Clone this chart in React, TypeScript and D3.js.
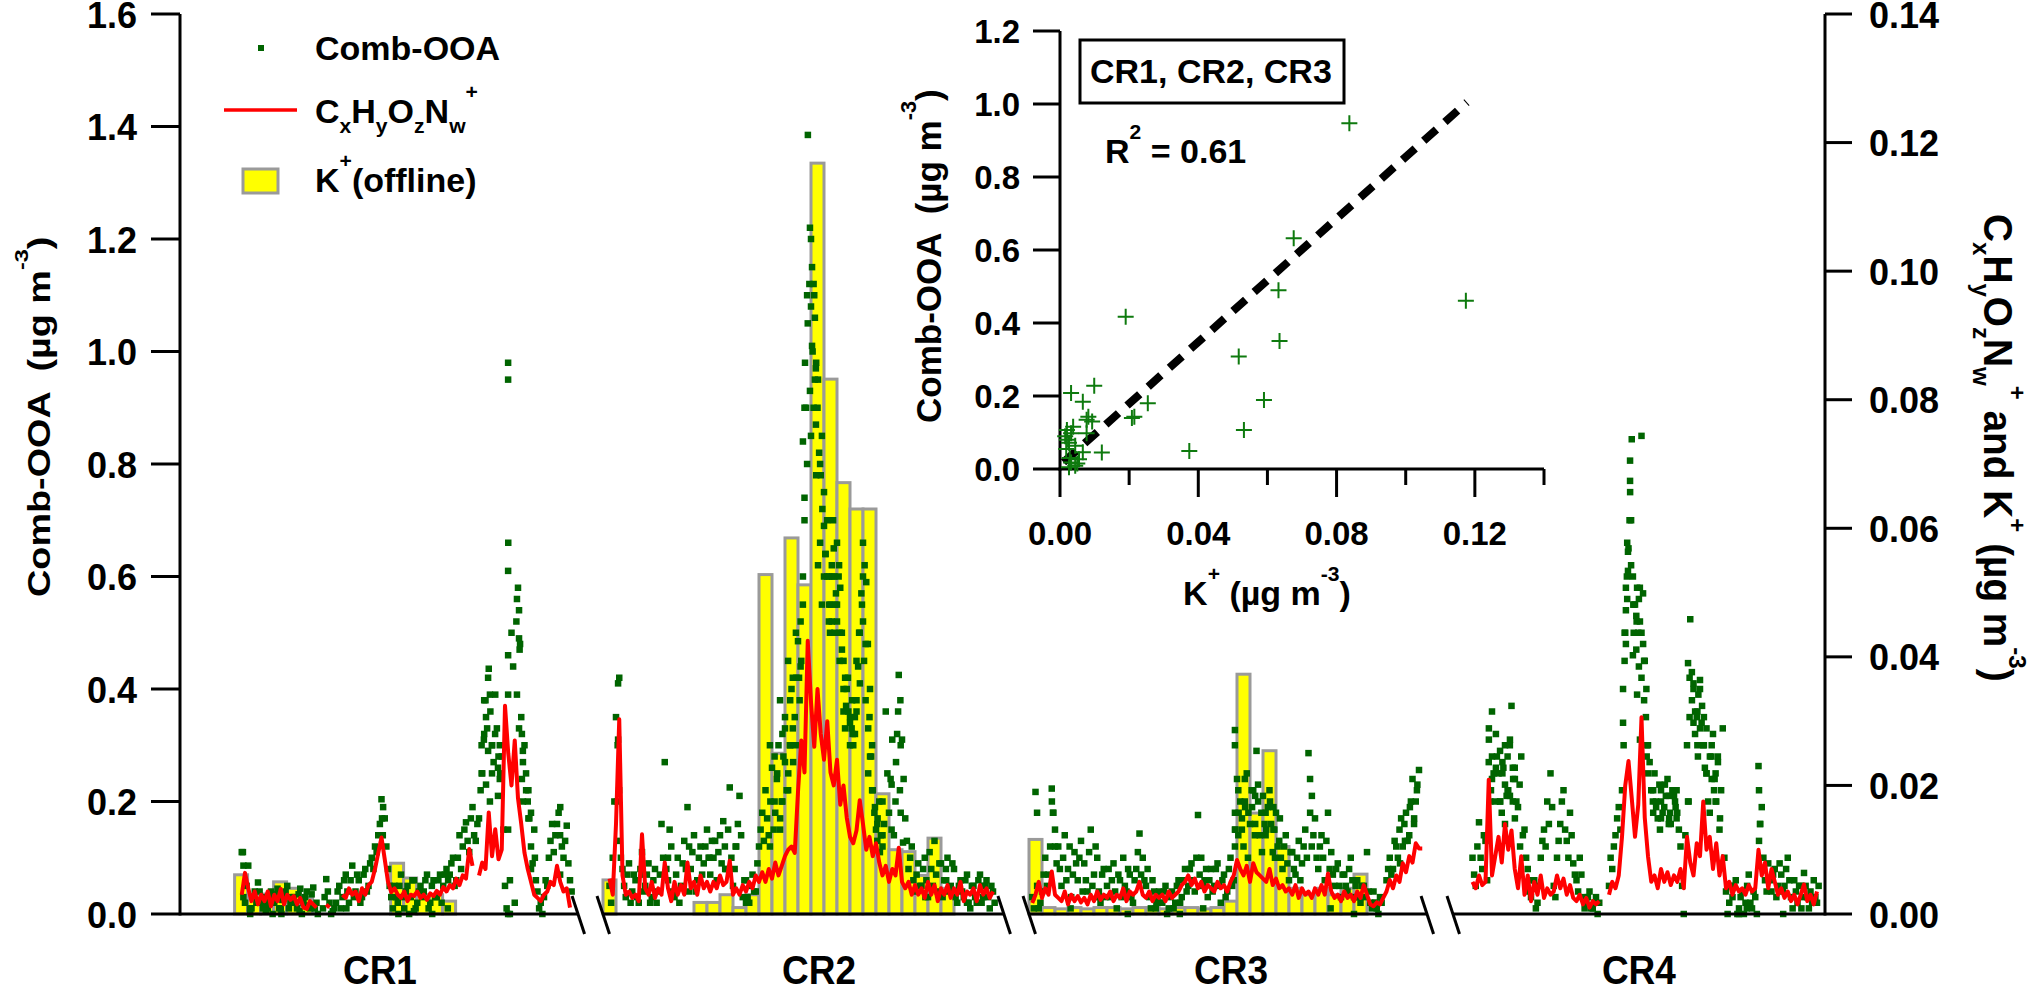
import React, { useEffect, useRef } from 'react';
import * as d3 from 'd3';

// ---------- data ----------
// time is in days from the left end of each campaign's axis piece
const AMS_STEP = 0.125; // spacing of the on-line points (3 h); second set sits half a step later
const FILTER_DAYS = 0.5; // duration of one offline K+ filter

const campaigns = ['CR1', 'CR2', 'CR3', 'CR4'];
const campaignDays = [15.31, 15.42, 15.31, 14.31];
const campaignLabelDay = [7.69, 8.31, 7.77, 7.15];

// Comb-OOA (left axis, ug m-3)
const cr1Start = 2.375;
const cr1CombOOA = [
  0.11, 0.02, 0.086, 0.01, 0.04, 0.056, 0.02, 0.03,
  0.01, 0.04, 0.02, 0.045, 0.01, 0.03, 0.05, 0.02,
  0.03, 0.01, 0.045, 0.02, 0.04, 0.01, 0.047, 0.02,
  null, 0.01, 0.062, 0.02, 0.005, 0.02, 0.05, 0.03,
  0.07, 0.02, 0.086, 0.04, 0.06, 0.03, 0.08, 0.05,
  0.1, 0.12, 0.14, 0.204, 0.17, 0.08, 0.03, 0.05,
  0.02, 0.07, 0.01, 0.05, 0.03, 0.06, 0.02, 0.05,
  0.04, 0.07, 0.02, 0.06, 0.03, 0.07, 0.05, 0.08,
  0.07, 0.1, 0.06, 0.14, 0.12, 0.163, 0.11, 0.19,
  0.13, 0.17, 0.25, 0.38, 0.436, 0.3, 0.39, 0.28,
  0.28, 0.05, 0.66, 0.5, 0.02, 0.58, 0.35, 0.3,
  0.2, 0.12, 0.15, 0.04, 0.02, 0.03, 0.05, 0.13,
  0.11, 0.16, 0.19, 0.1, 0.157, 0.06,
];
const cr1CombOOAb = [
  0.03, 0.05, 0.01, 0.03, 0.02, 0.04, 0.01, 0.02,
  0.03, 0.0, 0.035, 0.01, 0.025, 0.04, 0.01, 0.03,
  0.02, 0.035, 0.0, 0.03, 0.015, 0.035, 0.01, null,
  null, 0.03, 0.04, 0.0, 0.01, 0.04, 0.01, 0.06,
  0.04, 0.06, 0.03, 0.07, 0.02, 0.07, 0.04, 0.09,
  0.08, 0.11, 0.16, 0.19, 0.12, 0.05, 0.01, 0.03,
  0.05, 0.03, 0.04, 0.0, 0.06, 0.01, 0.04, 0.03,
  0.06, 0.01, 0.05, 0.03, 0.06, 0.02, 0.07, 0.06,
  0.09, 0.05, 0.1, 0.08, 0.15, 0.13, 0.17, 0.14,
  0.16, 0.22, 0.31, 0.33, 0.36, 0.27, 0.33, 0.25,
  0.15, 0.01, 0.0, 0.44, 0.52, 0.47, 0.29, 0.22,
  0.17, 0.09, 0.06, 0.01, 0.0, 0.06, 0.1, 0.16,
  0.14, 0.18, 0.12, 0.13, 0.09, 0.04,
];
const cr1CombOOAExtra: [number, number][] = [
  [2.42, 0.11], [2.44, 0.086], [2.7, 0.0], [3.3, 0.005], [3.9, 0.0], [4.6, 0.005], [5.3, 0.0],
  [6.4, 0.01], [7.77, 0.17], [7.8, 0.14], [8.4, 0.0], [9.0, 0.005], [9.7, 0.0], [10.3, 0.01],
  [11.6, 0.3], [11.6, 0.25], [11.7, 0.32], [11.7, 0.38],
  [11.77, 0.23], [11.77, 0.35], [11.85, 0.42], [11.85, 0.29], [11.92, 0.39], [11.92, 0.2],
  [12.0, 0.3], [12.0, 0.25], [12.12, 0.32], [12.23, 0.21], [12.23, 0.26], [12.3, 0.24], [12.3, 0.3],
  [12.62, 0.98], [12.62, 0.95], [12.62, 0.61],
  [12.62, 0.46], [12.62, 0.39], [12.62, 0.15], [12.62, 0.0], [12.69, 0.06], [12.96, 0.56],
  [12.96, 0.39], [13.04, 0.54], [13.04, 0.49], [13.04, 0.33], [13.08, 0.48], [13.15, 0.32],
  [13.15, 0.24], [13.19, 0.27], [13.19, 0.2], [13.31, 0.25], [13.4, 0.22], [13.4, 0.17],
  [13.5, 0.18], [13.5, 0.08], [13.65, 0.1], [14.62, 0.14], [14.62, 0.07],
];
// CxHyOzNw+ (right axis, ug m-3)
const cr1CHON = [
  0.003, 0.0064, 0.004, 0.002, 0.0035, 0.0015, 0.003, 0.002,
  0.0035, 0.0012, 0.003, 0.002, 0.0039, 0.0015, 0.003, 0.0022,
  0.0028, 0.0015, 0.0025, 0.001, 0.0008, 0.002, 0.0015, 0.001,
  null, null, 0.0015, 0.001, null, null, null, 0.003,
  0.0025, 0.004, 0.003, 0.0035, 0.002, 0.004, 0.003, 0.0045,
  0.005, 0.007, 0.0095, 0.0119, 0.0085, 0.005, 0.0034, 0.004,
  0.003, 0.0025, 0.0035, 0.002, 0.003, 0.0028, 0.0035, 0.0025,
  0.003, 0.0022, 0.0032, 0.0028, 0.0036, 0.003, 0.0042, 0.0035,
  0.0045, 0.004, 0.0055, 0.0045, 0.006, 0.0055, 0.0101, 0.0075,
  null, 0.006, 0.008, 0.007, 0.0158, 0.009, 0.0132, 0.0085,
  0.01, 0.0324, 0.025, 0.02, 0.027, 0.018, 0.014, 0.0095,
  0.007, 0.005, 0.003, 0.0025, 0.002, 0.003, 0.0035, 0.005,
  0.0045, 0.0075, 0.005, 0.0035, 0.004, 0.001,
];
// K+ offline (right axis, ug m-3)
const cr1FilterStart = 2.1;
const cr1KPlus = [0.0061, 0.003, 0.0031, 0.005, 0.004, 0.0025, null, null, null, null, null, null, 0.0079, 0.0056, 0.003, 0.003, 0.002];

const cr2Start = 0.25;
const cr2CombOOA = [
  0.05, 0.1, 0.35, 0.42, 0.08, 0.03, 0.09, 0.04,
  0.06, 0.02, 0.11, 0.05, 0.09, 0.03, 0.08, 0.04,
  0.16, 0.27, 0.06, 0.12, 0.03, 0.1, 0.05, 0.13,
  0.19, 0.08, 0.14, 0.06, 0.12, 0.09, 0.15, 0.07,
  0.1, 0.06, 0.14, 0.165, 0.08, 0.225, 0.05, 0.12,
  0.21, 0.03, 0.06, 0.02, 0.07, 0.04, 0.12, 0.18,
  0.22, 0.14, 0.26, 0.18, 0.3, 0.2, 0.33, 0.25,
  0.4, 0.35, 0.485, 0.45, 0.74, 1.05, 1.2, 1.1,
  0.9, 0.78, 0.69, 0.6, 0.55, 0.65, 0.52, 0.58,
  0.45, 0.4, 0.35, 0.3, 0.38, 0.5, 0.66, 0.59,
  0.35, 0.22, 0.15, 0.2, 0.12, 0.36, 0.18, 0.31,
  0.2, 0.425, 0.31, 0.17, 0.08, 0.12, 0.04, 0.09,
  0.05, 0.1, 0.03, 0.08, 0.13, 0.04, 0.09, 0.06,
  0.1, 0.05, 0.08, 0.02, 0.06, 0.03, 0.07, 0.01,
  0.05, 0.02, 0.07, 0.03, 0.06, 0.01, 0.04,
];
const cr2CombOOAb = [
  0.02, 0.2, 0.3, 0.1, 0.05, 0.07, 0.02, 0.07,
  0.03, 0.08, 0.04, 0.07, 0.02, 0.06, 0.02, 0.07,
  0.1, 0.08, 0.15, 0.04, 0.07, 0.02, 0.09, 0.08,
  0.12, 0.11, 0.04, 0.1, 0.07, 0.12, 0.1, 0.13,
  0.13, 0.11, 0.09, 0.12, 0.15, 0.1, 0.08, 0.16,
  0.14, 0.06, 0.03, 0.05, 0.04, 0.09, 0.15, 0.13,
  0.17, 0.2, 0.15, 0.24, 0.17, 0.28, 0.22, 0.3,
  0.27, 0.42, 0.38, 0.55, 0.9, 1.12, 1.0, 0.97,
  0.82, 0.72, 0.64, 0.52, 0.6, 0.55, 0.6, 0.5,
  0.42, 0.36, 0.33, 0.35, 0.44, 0.57, 0.62, 0.48,
  0.28, 0.18, 0.17, 0.14, 0.16, 0.25, 0.24, 0.14,
  0.32, 0.38, 0.24, 0.13, 0.1, 0.06, 0.07, 0.05,
  0.08, 0.06, 0.11, 0.05, 0.07, 0.09, 0.03, 0.08,
  0.04, 0.09, 0.03, 0.05, 0.04, 0.06, 0.02, 0.05,
  0.03, 0.06, 0.02, 0.05, 0.03, 0.05, 0.02,
];
const cr2CombOOAExtra: [number, number][] = [
  [0.54, 0.2], [0.58, 0.41], [0.58, 0.31], [0.62, 0.22], [0.62, 0.13], [1.5, 0.07], [2.5, 0.1],
  [3.3, 0.04], [4.1, 0.1], [4.7, 0.08], [5.1, 0.12], [5.5, 0.02], [6.42, 0.12], [6.42, 0.3],
  [6.6, 0.2], [6.6, 0.28], [6.7, 0.25], [6.81, 0.15], [6.81, 0.38], [6.9, 0.32], [6.9, 0.2],
  [7.0, 0.35], [7.0, 0.27], [7.12, 0.22], [7.12, 0.45], [7.2, 0.3], [7.2, 0.38], [7.3, 0.42],
  [7.3, 0.33], [7.42, 0.5], [7.42, 0.3], [7.54, 0.42], [7.6, 0.52], [7.6, 0.44],
  [7.69, 0.84], [7.69, 0.6], [7.75, 0.7], [7.75, 0.9], [7.77, 0.98], [7.85, 1.1], [7.85, 0.8],
  [7.88, 1.385], [7.96, 1.22], [7.96, 0.93], [8.0, 1.08], [8.0, 0.85], [8.04, 1.15],
  [8.04, 1.01], [8.1, 1.12], [8.1, 0.9], [8.15, 1.06], [8.15, 0.95], [8.19, 0.87], [8.2, 0.98],
  [8.2, 0.78], [8.27, 0.95], [8.27, 0.62], [8.35, 0.8], [8.35, 0.66], [8.42, 0.85],
  [8.42, 0.55], [8.5, 0.75], [8.5, 0.6], [8.55, 0.64], [8.62, 0.7], [8.7, 0.6], [8.7, 0.55],
  [8.73, 0.5], [8.8, 0.52], [8.8, 0.62], [8.85, 0.7], [8.9, 0.6], [8.9, 0.5], [8.96, 0.57],
  [9.0, 0.55], [9.0, 0.66], [9.08, 0.62], [9.1, 0.5], [9.1, 0.45], [9.19, 0.47], [9.25, 0.4],
  [9.25, 0.36], [9.31, 0.33], [9.35, 0.37], [9.42, 0.42], [9.5, 0.34], [9.5, 0.3], [9.58, 0.38],
  [9.6, 0.32], [9.69, 0.32], [9.75, 0.45], [9.75, 0.36], [9.85, 0.5], [9.88, 0.41], [9.96, 0.55],
  [10.0, 0.6], [10.0, 0.52], [10.04, 0.45], [10.1, 0.48], [10.1, 0.38], [10.2, 0.33], [10.2, 0.25],
  [10.27, 0.28], [10.27, 0.4], [10.35, 0.22], [10.35, 0.3], [10.46, 0.19], [10.55, 0.16],
  [10.55, 0.13], [10.65, 0.11], [10.75, 0.14], [10.75, 0.2], [11.1, 0.23], [11.1, 0.15],
  [11.27, 0.27], [11.35, 0.36], [11.42, 0.22], [11.45, 0.3], [11.45, 0.18], [11.54, 0.127],
  [12.4, 0.03], [13.2, 0.06], [14.0, 0.02], [14.6, 0.05],
];
const cr2CHON = [
  0.0055, 0.003, 0.014, 0.0303, 0.006, 0.003, 0.0035, 0.0025,
  0.003, 0.002, 0.0124, 0.004, 0.003, 0.005, 0.0025, 0.004,
  0.003, 0.008, 0.004, 0.002, 0.005, 0.003, 0.0045, 0.003,
  0.008, 0.004, 0.005, 0.003, 0.006, 0.004, 0.005, 0.0035,
  0.005, 0.004, 0.006, 0.0045, 0.005, 0.0083, 0.003, 0.004,
  0.003, 0.0045, 0.0035, 0.005, 0.004, 0.006, 0.005, 0.0065,
  0.005, 0.007, 0.0055, 0.008, 0.006, 0.0075, 0.009, 0.01,
  0.0105, 0.0095, 0.019, 0.027, 0.022, 0.0425, 0.033, 0.026,
  0.035, 0.028, 0.024, 0.03, 0.022, 0.02, 0.024, 0.017,
  0.02, 0.015, 0.012, 0.011, 0.013, 0.0177, 0.014, 0.01,
  0.012, 0.009, 0.011, 0.008, 0.006, 0.0075, 0.005, 0.007,
  0.006, 0.0103, 0.005, 0.004, 0.005, 0.003, 0.0045, 0.003,
  0.004, 0.0025, 0.005, 0.003, 0.0045, 0.002, 0.004, 0.003,
  0.0045, 0.0025, 0.004, 0.003, 0.005, 0.002, 0.0035, 0.003,
  0.004, 0.002, 0.0045, 0.003, 0.004, 0.0025, 0.0035,
];
const cr2FilterStart = 0;
const cr2KPlus = [
  0.0053, null, null, null, null, null, null, 0.0018, 0.0018, 0.003, 0.001, 0.003, 0.0528, 0.025,
  0.0585, 0.0512, 0.1168, 0.0832, 0.0671, 0.063, 0.063, 0.0187, 0.01, 0.0097, 0.006, 0.0118, 0.004,
];

const cr3Start = 0.125;
const cr3CombOOA = [
  0.03, 0.217, 0.01, 0.04, 0.1, 0.07, 0.223, 0.15,
  0.12, 0.05, 0.14, 0.08, 0.03, 0.11, 0.06, 0.13,
  0.09, 0.04, 0.15, 0.07, 0.1, 0.02, 0.08, 0.05,
  0.03, 0.09, 0.01, 0.06, 0.1, 0.04, 0.07, 0.02,
  0.08, 0.143, 0.1, 0.05, 0.03, 0.06, 0.01, 0.04,
  0.02, 0.05, 0.01, 0.04, 0.02, 0.06, 0.03, 0.08,
  0.05, 0.09, 0.04, 0.176, 0.1, 0.06, 0.03, 0.08,
  0.05, 0.09, 0.02, 0.07, 0.04, 0.1, 0.06, 0.24,
  0.2, 0.12, 0.25, 0.16, 0.22, 0.29, 0.14, 0.21,
  0.15, 0.22, 0.11, 0.18, 0.13, 0.08, 0.14, 0.06,
  0.11, 0.07, 0.13, 0.09, 0.15, 0.286, 0.12, 0.17,
  0.08, 0.14, 0.06, 0.18, 0.11, 0.05, 0.09, 0.03,
  0.07, 0.04, 0.1, 0.03, 0.06, 0.02, 0.05, 0.11,
  0.02, 0.04, 0.01, 0.03, null, 0.06, 0.1, 0.08,
  0.12, 0.15, 0.12, 0.18, 0.14, 0.24, 0.2,
];
const cr3CombOOAb = [
  0.01, 0.05, 0.02, 0.07, 0.05, 0.12, 0.18, 0.09,
  0.08, 0.1, 0.06, 0.12, 0.07, 0.09, 0.1, 0.04,
  0.06, 0.11, 0.05, 0.12, 0.04, 0.07, 0.03, 0.08,
  0.06, 0.04, 0.07, 0.03, 0.05, 0.08, 0.03, 0.06,
  0.11, 0.07, 0.06, 0.08, 0.01, 0.04, 0.03, 0.02,
  0.04, 0.0, 0.03, 0.01, 0.05, 0.02, 0.06, 0.04,
  0.08, 0.06, 0.1, 0.07, 0.05, 0.08, 0.06, 0.04,
  0.08, 0.05, 0.06, 0.03, 0.08, 0.05, 0.15, 0.18,
  0.15, 0.19, 0.18, 0.22, 0.14, 0.2, 0.18, 0.16,
  0.19, 0.16, 0.15, 0.12, 0.1, 0.12, 0.09, 0.11,
  0.08, 0.1, 0.06, 0.12, 0.1, 0.18, 0.14, 0.1,
  0.12, 0.1, 0.13, 0.08, 0.07, 0.08, 0.05, 0.07,
  0.05, 0.08, 0.06, 0.05, 0.03, 0.05, 0.03, 0.04,
  0.01, 0.02, 0.0, 0.02, null, 0.08, 0.07, 0.13,
  0.1, 0.17, 0.16, 0.13, 0.2, 0.17, 0.23,
];
const cr3CombOOAExtra: [number, number][] = [
  [0.31, 0.18], [0.88, 0.2], [0.92, 0.18], [1.0, 0.12], [1.6, 0.01], [2.7, 0.03], [3.8, 0.0],
  [4.9, 0.02], [5.8, 0.0], [6.7, 0.01], [7.92, 0.327], [7.92, 0.3], [7.92, 0.18], [7.92, 0.15],
  [7.92, 0.12], [8.05, 0.22], [8.05, 0.14], [8.19, 0.17], [8.3, 0.2], [8.3, 0.24], [8.42, 0.1],
  [8.58, 0.19], [8.7, 0.16], [8.7, 0.21], [8.81, 0.23], [8.96, 0.11], [9.1, 0.18], [9.1, 0.14],
  [9.27, 0.2], [9.4, 0.15], [9.4, 0.19],
  [9.46, 0.1], [9.65, 0.17], [10.81, 0.24], [10.88, 0.21], [11.6, 0.01], [12.5, 0.0], [13.3, 0.02],
  [14.27, 0.09], [14.46, 0.13], [14.65, 0.19], [14.81, 0.16], [14.92, 0.22], [15.0, 0.256],
];
const cr3CHON = [
  0.0017, 0.003, 0.005, 0.0025, 0.004, 0.003, 0.0066, 0.003,
  0.0025, 0.002, 0.0035, 0.0015, 0.003, 0.002, 0.0028, 0.0018,
  0.0025, 0.0015, 0.003, 0.002, 0.0035, 0.0022, 0.003, 0.0025,
  0.0035, 0.002, 0.003, 0.0025, 0.004, 0.002, 0.0035, 0.003,
  0.0035, 0.005, 0.003, 0.0025, 0.0035, 0.002, 0.003, 0.0025,
  0.003, 0.002, 0.0035, 0.0025, 0.003, 0.0035, 0.0045, 0.005,
  0.006, 0.0045, 0.0055, 0.004, 0.005, 0.0035, 0.0045, 0.004,
  0.0035, 0.005, 0.004, 0.0045, 0.0035, 0.005, 0.006, 0.0084,
  0.007, 0.006, 0.0075, 0.005, 0.0079, 0.0065, 0.006, 0.0055,
  0.005, 0.007, 0.0045, 0.0055, 0.004, 0.0045, 0.0035, 0.004,
  0.003, 0.0045, 0.0025, 0.004, 0.003, 0.0035, 0.0025, 0.004,
  0.003, 0.0045, 0.003, 0.0063, 0.0035, 0.0025, 0.003, 0.002,
  0.0035, 0.0025, 0.003, 0.002, 0.0035, 0.0025, 0.0045, 0.003,
  0.0015, 0.0012, 0.0018, 0.0015, 0.0025, 0.0035, 0.0053, 0.004,
  0.006, 0.005, 0.0079, 0.0065, 0.009, 0.008, 0.011, 0.0102,
  0.0102,
];
const cr3FilterStart = 0;
const cr3KPlus = [
  0.0116, 0.001, 0.0008, 0.001, 0.0008, 0.001, 0.001, 0.0008, 0.001, 0.001, 0.0008, 0.001, 0.001,
  0.0008, 0.001, 0.002, 0.0373, 0.0157, 0.0254, 0.0105, 0.004, 0.003, 0.004, 0.003, 0.004, 0.0062,
];

const cr4Start = 0.75;
const cr4CombOOA = [
  0.1, 0.05, 0.163, 0.08, 0.13, 0.27, 0.36, 0.2,
  0.25, 0.18, 0.3, 0.22, 0.37, 0.26, 0.19, 0.28,
  0.15, 0.08, 0.03, 0.06, 0.02, 0.1, 0.15, 0.2,
  0.25, 0.05, 0.1, 0.16, 0.22, 0.13, 0.18, 0.09,
  0.06, 0.1, 0.03, 0.02, 0.04, 0.01, 0.03, 0.02,
  null, null, 0.05, 0.08, 0.14, 0.19, 0.22, 0.5,
  0.65, 0.844, 0.55, 0.5, 0.85, 0.45, 0.3, 0.22,
  0.25, 0.17, 0.22, 0.19, 0.24, 0.16, 0.21, 0.18,
  0.12, 0.0, 0.3, 0.524, 0.41, 0.35, 0.416, 0.3,
  0.25, 0.18, 0.32, 0.2, 0.15, 0.33, 0.04, 0.02,
  0.03, 0.06, 0.01, 0.04, 0.02, 0.07, 0.01, 0.03,
  0.263, 0.19, 0.06, 0.09, 0.04, 0.08, 0.05, 0.07,
  0.05, 0.1, 0.03, 0.06, 0.02, 0.05, 0.073, 0.03,
  0.04, 0.06, 0.02,
];
const cr4CombOOAb = [
  0.07, 0.12, 0.1, 0.14, 0.06, 0.2, 0.25, 0.28,
  0.2, 0.26, 0.21, 0.3, 0.24, 0.2, 0.23, 0.14,
  0.1, 0.04, 0.06, 0.01, 0.05, 0.13, 0.12, 0.16,
  0.19, 0.03, 0.13, 0.2, 0.15, 0.1, 0.14, 0.07,
  0.04, 0.07, 0.01, 0.03, 0.01, 0.02, 0.0, null,
  null, null, 0.1, 0.12, 0.17, 0.15, 0.3, 0.6,
  0.75, 0.55, 0.52, 0.58, 0.48, 0.4, 0.27, 0.2,
  0.19, 0.23, 0.18, 0.21, 0.17, 0.22, 0.19, 0.15,
  0.05, 0.14, 0.2, 0.43, 0.36, 0.39, 0.34, 0.26,
  0.2, 0.28, 0.24, 0.28, 0.22, 0.1, 0.0, 0.05,
  0.05, 0.0, 0.03, 0.0, 0.05, 0.02, 0.04, 0.0,
  0.16, 0.1, 0.04, 0.06, 0.07, 0.03, 0.09, 0.04,
  0.08, 0.06, 0.01, 0.04, 0.05, 0.03, 0.05, 0.01,
  0.02, 0.03, 0.05,
];
const cr4CombOOAExtra: [number, number][] = [
  [1.38, 0.33], [1.38, 0.31], [1.46, 0.22], [1.5, 0.28], [1.5, 0.24], [1.65, 0.32], [1.65, 0.26],
  [1.81, 0.2], [1.81, 0.29], [1.9, 0.25], [1.9, 0.27], [2.0, 0.23], [2.0, 0.16], [2.1, 0.22],
  [2.1, 0.28], [2.19, 0.31], [2.19, 0.21], [2.3, 0.2], [2.3, 0.26], [2.38, 0.24], [2.38, 0.17],
  [2.58, 0.12], [6.54, 0.34], [6.54, 0.4], [6.6, 0.45], [6.6, 0.5],
  [6.65, 0.54], [6.65, 0.58], [6.65, 0.48], [6.7, 0.56], [6.7, 0.66], [6.73, 0.61], [6.73, 0.644],
  [6.79, 0.7], [6.81, 0.77], [6.81, 0.806], [6.85, 0.7], [6.85, 0.62], [6.92, 0.6], [6.92, 0.46],
  [6.95, 0.55], [6.95, 0.5], [7.05, 0.53], [7.05, 0.47], [7.08, 0.39], [7.08, 0.58], [7.15, 0.56],
  [7.15, 0.44], [7.19, 0.31], [7.19, 0.52], [7.25, 0.5], [7.25, 0.42], [7.31, 0.57], [7.35, 0.45],
  [7.35, 0.38], [7.42, 0.35], [7.45, 0.3], [7.45, 0.28], [7.5, 0.25], [7.7, 0.18], [7.7, 0.22],
  [7.81, 0.2], [7.96, 0.15], [8.0, 0.2], [8.0, 0.17], [8.15, 0.23], [8.3, 0.21], [8.3, 0.16],
  [8.35, 0.18], [8.54, 0.2], [8.6, 0.17], [8.6, 0.22], [9.04, 0.446], [9.04, 0.2], [9.1, 0.42],
  [9.1, 0.35], [9.19, 0.38], [9.25, 0.4], [9.25, 0.34], [9.31, 0.32], [9.4, 0.36], [9.4, 0.3],
  [9.42, 0.28], [9.5, 0.33], [9.5, 0.4], [9.58, 0.37], [9.65, 0.3], [9.65, 0.35], [9.75, 0.33],
  [9.75, 0.25], [9.88, 0.28], [9.95, 0.3], [9.95, 0.24], [10.04, 0.22], [10.1, 0.25], [10.1, 0.2],
  [10.19, 0.27], [10.27, 0.17], [11.0, 0.0], [11.3, 0.01],
  [11.77, 0.22], [11.77, 0.13], [11.81, 0.16], [12.7, 0.0], [13.4, 0.01],
];
const cr4CHON = [
  0.005, 0.004, 0.006, 0.0045, 0.005, 0.0209, 0.006, 0.009,
  0.012, 0.008, 0.014, 0.01, 0.013, 0.007, 0.004, 0.009,
  0.003, 0.006, 0.002, 0.005, 0.003, 0.006, 0.0025, 0.004,
  0.003, 0.0035, 0.006, 0.004, 0.0055, 0.003, 0.0045, 0.0025,
  0.002, 0.003, 0.0015, 0.0025, 0.001, 0.002, 0.0015, 0.002,
  null, null, 0.003, 0.005, 0.004, 0.006, 0.012, 0.02,
  0.0238, 0.018, 0.012, 0.017, 0.0306, 0.015, 0.009, 0.005,
  0.006, 0.004, 0.007, 0.005, 0.0065, 0.0045, 0.006, 0.005,
  0.007, 0.004, 0.012, 0.008, 0.006, 0.011, 0.009, 0.0175,
  0.01, 0.012, 0.007, 0.011, 0.006, 0.009, 0.004, 0.005,
  0.003, 0.0045, 0.0035, 0.004, 0.003, 0.0045, 0.0035, 0.004,
  0.01, 0.006, 0.008, 0.004, 0.007, 0.005, 0.003, 0.004,
  0.0025, 0.0035, 0.002, 0.003, 0.0015, 0.003, 0.0046, 0.002,
  0.003, 0.0015, 0.0035,
];

// inset scatter: filter K+ vs filter-averaged Comb-OOA
const insetK = [
  0.0837, 0.0676, 0.0632, 0.1174, 0.019, 0.0635, 0.0517, 0.059, 0.0532, 0.0374, 0.0254, 0.0215,
  0.0208, 0.0099, 0.0032, 0.0066, 0.0082, 0.0093, 0.0077, 0.0121, 0.002, 0.0032, 0.0015, 0.0026,
  0.0044, 0.0018, 0.0066, 0.0055, 0.0032, 0.0044, 0.0026, 0.0077, 0.0038, 0.002, 0.0028, 0.005,
];
const insetOOA = [
  0.947, 0.632, 0.49, 0.461, 0.417, 0.351, 0.308, 0.189, 0.107, 0.049, 0.18, 0.143,
  0.14, 0.228, 0.208, 0.184, 0.143, 0.13, 0.135, 0.045, 0.107, 0.098, 0.09, 0.072,
  0.064, 0.055, 0.046, 0.027, 0.018, 0.009, 0.005, 0.098, 0.116, 0.08, 0.03, 0.015,
];
const fitSlope = 8.45;
const fitIntercept = 0.01;
const fitRange = [0.001, 0.1177];

const leftTicks = [0, 0.2, 0.4, 0.6, 0.8, 1.0, 1.2, 1.4, 1.6];
const rightTicks = [0, 0.02, 0.04, 0.06, 0.08, 0.1, 0.12, 0.14];
const insetYTicks = [0, 0.2, 0.4, 0.6, 0.8, 1.0, 1.2];
const insetXTicks = [0, 0.02, 0.04, 0.06, 0.08, 0.1, 0.12, 0.14];
const insetXLabelled = [0, 0.04, 0.08, 0.12];

type Part = [string, '' | 'sub' | 'sup'];

const App: React.FC = () => {
  const svgRef = useRef<SVGSVGElement | null>(null);

  useEffect(() => {
    if (!svgRef.current) return;
    const svg = d3.select(svgRef.current);
    svg.selectAll('*').remove();

    const FONT = '"Liberation Sans", Arial, Helvetica, sans-serif';
    const GREEN = '#006400';
    const RED = '#ff0000';
    const YELLOW = '#ffff00';
    const BAR_EDGE = '#9a9a9a';
    const PX_PER_DAY = 26;
    const segX0 = [180, 603, 1029, 1453];
    const AXIS_Y = 914;

    const g = svg.append('g').attr('font-family', FONT).attr('font-weight', 'bold');

    const yL = d3.scaleLinear().domain([0, 1.6]).range([AXIS_Y, 14]);
    const yR = d3.scaleLinear().domain([0, 0.14]).range([AXIS_Y, 14]);
    const segScales = campaignDays.map((d, i) =>
      d3.scaleLinear().domain([0, d]).range([segX0[i], segX0[i] + d * PX_PER_DAY]));

    const rich = (sel: d3.Selection<SVGTextElement, unknown, null, undefined>, parts: Part[], size: number, supShift = 0.72) => {
      let shift = 0;
      parts.forEach(([t, m]) => {
        const target = m === 'sup' ? -supShift * size : m === 'sub' ? 0.28 * size : 0;
        sel.append('tspan').attr('dy', target - shift).attr('font-size', m ? size * 0.62 : size).text(t);
        shift = target;
      });
    };

    const greens = [cr1CombOOA, cr2CombOOA, cr3CombOOA, cr4CombOOA];
    const greensB = [cr1CombOOAb, cr2CombOOAb, cr3CombOOAb, cr4CombOOAb];
    const greenStarts = [cr1Start, cr2Start, cr3Start, cr4Start];
    const extras = [cr1CombOOAExtra, cr2CombOOAExtra, cr3CombOOAExtra, cr4CombOOAExtra];
    const reds = [cr1CHON, cr2CHON, cr3CHON, cr4CHON];
    const filters = [cr1KPlus, cr2KPlus, cr3KPlus, []];
    const filterStarts = [cr1FilterStart, cr2FilterStart, cr3FilterStart, 0];

    // --- K+ bars ---
    filters.forEach((vals, si) => {
      const xs = segScales[si];
      vals.forEach((v, k) => {
        if (v == null) return;
        const t0 = filterStarts[si] + k * FILTER_DAYS;
        g.append('rect')
          .attr('x', xs(t0)).attr('width', xs(t0 + FILTER_DAYS) - xs(t0))
          .attr('y', yR(v)).attr('height', yR(0) - yR(v))
          .attr('fill', YELLOW).attr('stroke', BAR_EDGE).attr('stroke-width', 3);
      });
    });

    // --- Comb-OOA points ---
    const SQ = 6.5;
    greens.forEach((vals, si) => {
      const xs = segScales[si];
      const pts: [number, number][] = [];
      vals.forEach((v, i) => { if (v != null) pts.push([greenStarts[si] + i * AMS_STEP, v]); });
      greensB[si].forEach((v, i) => { if (v != null) pts.push([greenStarts[si] + (i + 0.5) * AMS_STEP, v]); });
      extras[si].forEach(p => pts.push(p));
      g.append('g').selectAll('rect').data(pts).enter().append('rect')
        .attr('x', d => xs(d[0]) - SQ / 2).attr('y', d => yL(d[1]) - SQ / 2)
        .attr('width', SQ).attr('height', SQ).attr('fill', GREEN);
    });

    // --- CxHyOzNw+ line ---
    reds.forEach((vals, si) => {
      const xs = segScales[si];
      const line = d3.line<number | null>()
        .defined(v => v != null)
        .x((_v, i) => xs(greenStarts[si] + i * AMS_STEP))
        .y(v => yR(v as number));
      g.append('path').datum(vals).attr('d', line)
        .attr('fill', 'none').attr('stroke', RED).attr('stroke-width', 4)
        .attr('stroke-linejoin', 'round');
    });

    // --- axes ---
    const ax = (x1: number, y1: number, x2: number, y2: number, w = 3) =>
      g.append('line').attr('x1', x1).attr('y1', y1).attr('x2', x2).attr('y2', y2)
        .attr('stroke', '#000').attr('stroke-width', w);

    ax(180, 14, 180, AXIS_Y + 1.5);
    leftTicks.forEach(t => {
      ax(151, yL(t), 180, yL(t));
      g.append('text').attr('x', 137).attr('y', yL(t) + 13.5).attr('text-anchor', 'end')
        .attr('font-size', 36).text(d3.format('.1f')(t));
    });
    ax(1825, 14, 1825, AXIS_Y + 1.5);
    rightTicks.forEach(t => {
      ax(1825, yR(t), 1852, yR(t));
      g.append('text').attr('x', 1869).attr('y', yR(t) + 13.5).attr('text-anchor', 'start')
        .attr('font-size', 36).text(d3.format('.2f')(t));
    });

    // bottom axis pieces and break marks
    segScales.forEach((xs, i) => {
      const [a, b] = xs.range();
      ax(a, AXIS_Y, b, AXIS_Y);
      if (i > 0) ax(a - 6, 896, a + 6.5, 934);
      if (i < segScales.length - 1) ax(b - 6, 896, b + 6.5, 934);
      g.append('text')
        .attr('transform', `translate(${xs(campaignLabelDay[i])},984) scale(1,1.1)`)
        .attr('text-anchor', 'middle').attr('font-size', 37).text(campaigns[i]);
    });

    // axis titles
    const lt = g.append('text').attr('transform', 'translate(50,597) rotate(-90) scale(1.22,1)')
      .attr('font-size', 31).style('white-space', 'pre');
    rich(lt, [['Comb-OOA  (µg m', ''], ['-3', 'sup'], [')', '']], 31);

    const rt = g.append('text').attr('transform', 'translate(1984,214) rotate(90) scale(0.97,1)')
      .attr('font-size', 40).style('white-space', 'pre');
    rich(rt, [['C', ''], ['x', 'sub'], ['H', ''], ['y', 'sub'], ['O', ''], ['z', 'sub'], ['N', ''], ['w', 'sub'],
      ['+', 'sup'], [' and K', ''], ['+', 'sup'], [' (µg m', ''], ['-3', 'sup'], [')', '']], 40, 0.62);

    // --- legend ---
    g.append('rect').attr('x', 261 - 3).attr('y', 48 - 3).attr('width', 6).attr('height', 6).attr('fill', GREEN);
    g.append('text').attr('x', 315).attr('y', 60).attr('font-size', 34).text('Comb-OOA');
    ax(224, 110, 297, 110, 3.5).attr('stroke', RED);
    const l2 = g.append('text').attr('x', 315).attr('y', 123).style('white-space', 'pre');
    rich(l2, [['C', ''], ['x', 'sub'], ['H', ''], ['y', 'sub'], ['O', ''], ['z', 'sub'], ['N', ''], ['w', 'sub'], ['+', 'sup']], 34);
    g.append('rect').attr('x', 243).attr('y', 169).attr('width', 35).attr('height', 24)
      .attr('fill', YELLOW).attr('stroke', BAR_EDGE).attr('stroke-width', 3);
    const l3 = g.append('text').attr('x', 315).attr('y', 192).style('white-space', 'pre');
    rich(l3, [['K', ''], ['+', 'sup'], ['(offline)', '']], 34);

    // --- inset scatter ---
    const xI = d3.scaleLinear().domain([0, 0.14]).range([1060, 1544]);
    const yI = d3.scaleLinear().domain([0, 1.2]).range([469, 31]);
    ax(1060, 31, 1060, 470.5);
    ax(1058.5, 469, 1544, 469);
    insetYTicks.forEach(t => {
      ax(1033, yI(t), 1060, yI(t));
      g.append('text').attr('x', 1020).attr('y', yI(t) + 12).attr('text-anchor', 'end')
        .attr('font-size', 33).text(d3.format('.1f')(t));
    });
    insetXTicks.forEach(t => {
      const major = insetXLabelled.some(m => Math.abs(m - t) < 1e-9);
      ax(xI(t), 469, xI(t), major ? 497 : 485);
      if (major) {
        g.append('text').attr('x', xI(t)).attr('y', 545).attr('text-anchor', 'middle')
          .attr('font-size', 33).text(d3.format('.2f')(t));
      }
    });
    const xt = g.append('text').attr('x', 1267).attr('y', 605).attr('text-anchor', 'middle').style('white-space', 'pre');
    rich(xt, [['K', ''], ['+', 'sup'], [' (µg m', ''], ['-3', 'sup'], [')', '']], 34);
    const yt = g.append('text').attr('transform', 'translate(941,423) rotate(-90)').style('white-space', 'pre');
    rich(yt, [['Comb-OOA  (µg m', ''], ['-3', 'sup'], [')', '']], 35);

    // fit line
    g.append('line')
      .attr('x1', xI(fitRange[0])).attr('y1', yI(fitIntercept + fitSlope * fitRange[0]))
      .attr('x2', xI(fitRange[1])).attr('y2', yI(fitIntercept + fitSlope * fitRange[1]))
      .attr('stroke', '#000').attr('stroke-width', 8).attr('stroke-dasharray', '17,11.4');

    // plus markers
    const P = 8;
    insetK.forEach((k, i) => {
      const cx = xI(k), cy = yI(insetOOA[i]);
      g.append('path').attr('d', `M${cx - P},${cy}H${cx + P}M${cx},${cy - P}V${cy + P}`)
        .attr('stroke', '#0e7a0e').attr('stroke-width', 2).attr('fill', 'none');
    });

    // inset annotation
    g.append('rect').attr('x', 1080).attr('y', 40).attr('width', 264).attr('height', 63)
      .attr('fill', 'none').attr('stroke', '#000').attr('stroke-width', 3);
    g.append('text').attr('x', 1090).attr('y', 83).attr('font-size', 34).text('CR1, CR2, CR3');
    const r2 = g.append('text').attr('x', 1105).attr('y', 163).style('white-space', 'pre');
    rich(r2, [['R', ''], ['2', 'sup'], [' = 0.61', '']], 34);
  }, []);

  return (
    <svg ref={svgRef} width={2037} height={991}
      style={{ position: 'absolute', left: 0, top: 0, background: '#ffffff' }} />
  );
};

export default App;
